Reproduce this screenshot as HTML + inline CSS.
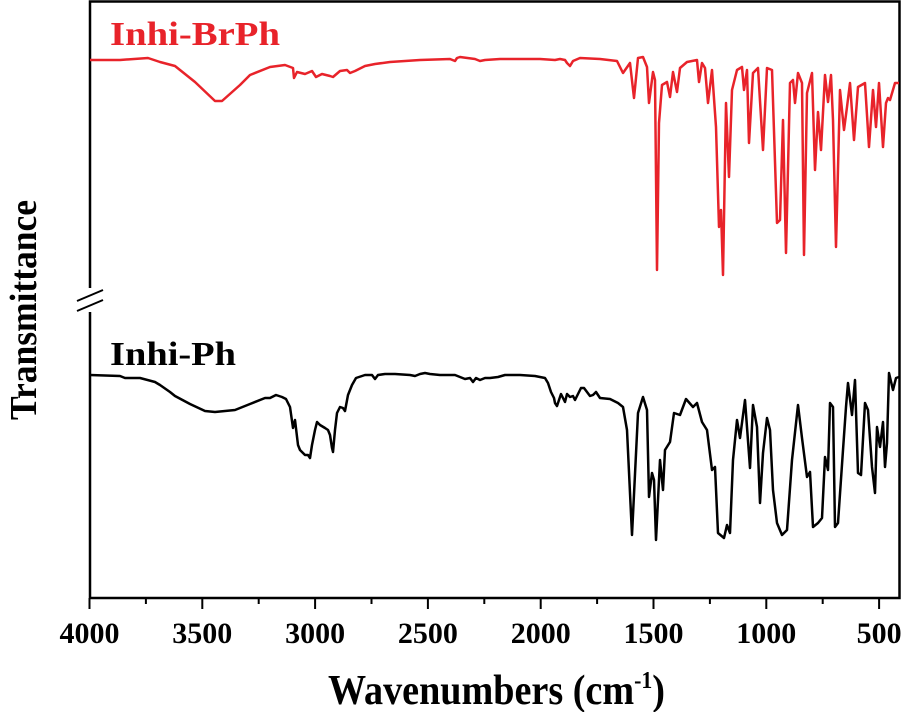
<!DOCTYPE html>
<html><head><style>body{margin:0;background:#fff}svg{display:block}</style></head>
<body>
<svg width="902" height="712" viewBox="0 0 902 712" xmlns="http://www.w3.org/2000/svg">
<rect x="90" y="1.5" width="809.5" height="596.5" fill="none" stroke="#000" stroke-width="2.5"/>
<g stroke="#000" stroke-width="2">
<line x1="89.5" y1="598" x2="89.5" y2="609"/><line x1="145.9" y1="598" x2="145.9" y2="604"/>
<line x1="202.3" y1="598" x2="202.3" y2="609"/><line x1="258.7" y1="598" x2="258.7" y2="604"/>
<line x1="315.1" y1="598" x2="315.1" y2="609"/><line x1="371.5" y1="598" x2="371.5" y2="604"/>
<line x1="427.9" y1="598" x2="427.9" y2="609"/><line x1="484.3" y1="598" x2="484.3" y2="604"/>
<line x1="540.7" y1="598" x2="540.7" y2="609"/><line x1="597.1" y1="598" x2="597.1" y2="604"/>
<line x1="653.5" y1="598" x2="653.5" y2="609"/><line x1="709.9" y1="598" x2="709.9" y2="604"/>
<line x1="766.3" y1="598" x2="766.3" y2="609"/><line x1="822.7" y1="598" x2="822.7" y2="604"/>
<line x1="879.1" y1="598" x2="879.1" y2="609"/>
</g>
<rect x="80" y="288" width="20" height="24" fill="#fff"/>
<g stroke="#000" stroke-width="2"><line x1="77" y1="301" x2="103" y2="290"/><line x1="77" y1="311" x2="103" y2="300"/></g>
<g font-family="Liberation Serif, serif" font-weight="bold" font-size="30" text-anchor="middle" fill="#000">
<text x="89.5" y="643" textLength="60" lengthAdjust="spacingAndGlyphs">4000</text>
<text x="202.3" y="643" textLength="60" lengthAdjust="spacingAndGlyphs">3500</text>
<text x="315.1" y="643" textLength="60" lengthAdjust="spacingAndGlyphs">3000</text>
<text x="427.9" y="643" textLength="60" lengthAdjust="spacingAndGlyphs">2500</text>
<text x="540.7" y="643" textLength="60" lengthAdjust="spacingAndGlyphs">2000</text>
<text x="653.5" y="643" textLength="60" lengthAdjust="spacingAndGlyphs">1500</text>
<text x="766.3" y="643" textLength="60" lengthAdjust="spacingAndGlyphs">1000</text>
<text x="879.1" y="643" textLength="45" lengthAdjust="spacingAndGlyphs">500</text>
</g>
<text x="328" y="704" font-family="Liberation Serif, serif" font-weight="bold" font-size="42" textLength="337" lengthAdjust="spacingAndGlyphs">Wavenumbers (cm<tspan font-size="24" dy="-16">-1</tspan><tspan dy="16">)</tspan></text>
<text transform="translate(36,310) rotate(-90)" text-anchor="middle" font-family="Liberation Serif, serif" font-weight="bold" font-size="38" textLength="220" lengthAdjust="spacingAndGlyphs">Transmittance</text>
<text x="110" y="45" font-family="Liberation Serif, serif" font-weight="bold" font-size="34" fill="#e8232a" textLength="170" lengthAdjust="spacingAndGlyphs">Inhi-BrPh</text>
<text x="110" y="365" font-family="Liberation Serif, serif" font-weight="bold" font-size="34" fill="#000" textLength="126" lengthAdjust="spacingAndGlyphs">Inhi-Ph</text>
<polyline fill="none" stroke="#e8232a" stroke-width="2.5" stroke-linejoin="round" points="90,60 120,60 148,58 160,62 175,66 195,82 215,101 222,101 240,85 250,75 270,67 285,65 293,68 294,78 297,72 305,74 312,71 316,77 322,74 330,76 333,77 340,71 347,70 350,73 355,71 365,66 375,64 390,62 420,60 450,59 455,61 457,58 460,57 475,59 480,61 485,60 500,59 540,59 555,60 560,59 565,60 567,63 570,66 573,61 580,58 600,59 617,61 623,73 630,63 634,98 638,58 643,57 647,67 649,103 653,72 655,80 657,270 659,123 662,85 667,82 670,97 673,72 677,92 680,68 687,62 697,60 699,82 702,63 705,68 708,103 712,70 716,127 719,227 721,210 723,275 726,103 729,177 732,90 737,70 742,67 744,90 747,70 749,143 753,73 758,68 763,150 767,68 772,70 777,223 780,220 783,120 786,253 790,83 793,80 795,103 798,73 802,83 804,255 807,93 812,73 815,170 818,112 821,150 825,75 828,102 831,75 833,120 836,247 840,90 844,130 847,107 850,83 854,140 858,87 865,83 869,147 873,90 876,127 879,83 883,147 886,103 888,98 890,100 895,83 899,83"/>
<polyline fill="none" stroke="#000" stroke-width="2.5" stroke-linejoin="round" points="90,375 120,376 125,378 140,378 155,382 160,385 170,392 175,396 190,404 205,411 215,412 235,410 250,404 265,398 270,398 276,395 282,397 286,399 290,407 293,428 295,420 298,445 300,450 303,453 305,455 308,455 310,458 312,445 315,430 317,422 320,425 325,428 328,430 330,435 332,448 333,452 335,430 337,413 340,407 343,408 345,411 348,395 352,385 356,378 365,375 372,375 375,379 378,375 385,374 395,374 410,375 415,376 420,374 425,373 430,374 440,375 455,375 460,377 465,379 470,378 473,382 476,378 480,380 485,378 490,378 498,377 505,375 520,375 535,376 540,377 545,378 548,383 551,392 554,398 555,403 557,406 559,400 561,394 563,398 565,402 567,394 570,397 573,396 575,400 578,394 581,388 584,388 587,392 590,396 593,395 596,392 600,398 610,399 618,403 623,407 627,430 632,535 638,413 643,397 647,410 649,497 652,473 654,480 656,540 660,460 663,490 665,450 670,442 674,413 680,415 686,399 693,407 697,403 702,422 707,430 712,470 715,467 718,533 724,538 727,525 730,533 733,460 737,420 740,438 745,400 750,468 753,405 757,427 760,503 763,453 767,418 770,430 773,490 777,523 782,535 787,530 792,460 798,405 802,438 807,477 810,472 813,527 818,523 822,518 825,457 828,470 830,403 833,407 835,527 838,523 843,450 846,407 848,383 852,415 855,380 858,473 861,475 865,403 868,410 872,467 875,493 877,427 880,447 883,422 885,467 887,443 889,373 893,390 896,378 899,377"/>
</svg>
</body></html>
